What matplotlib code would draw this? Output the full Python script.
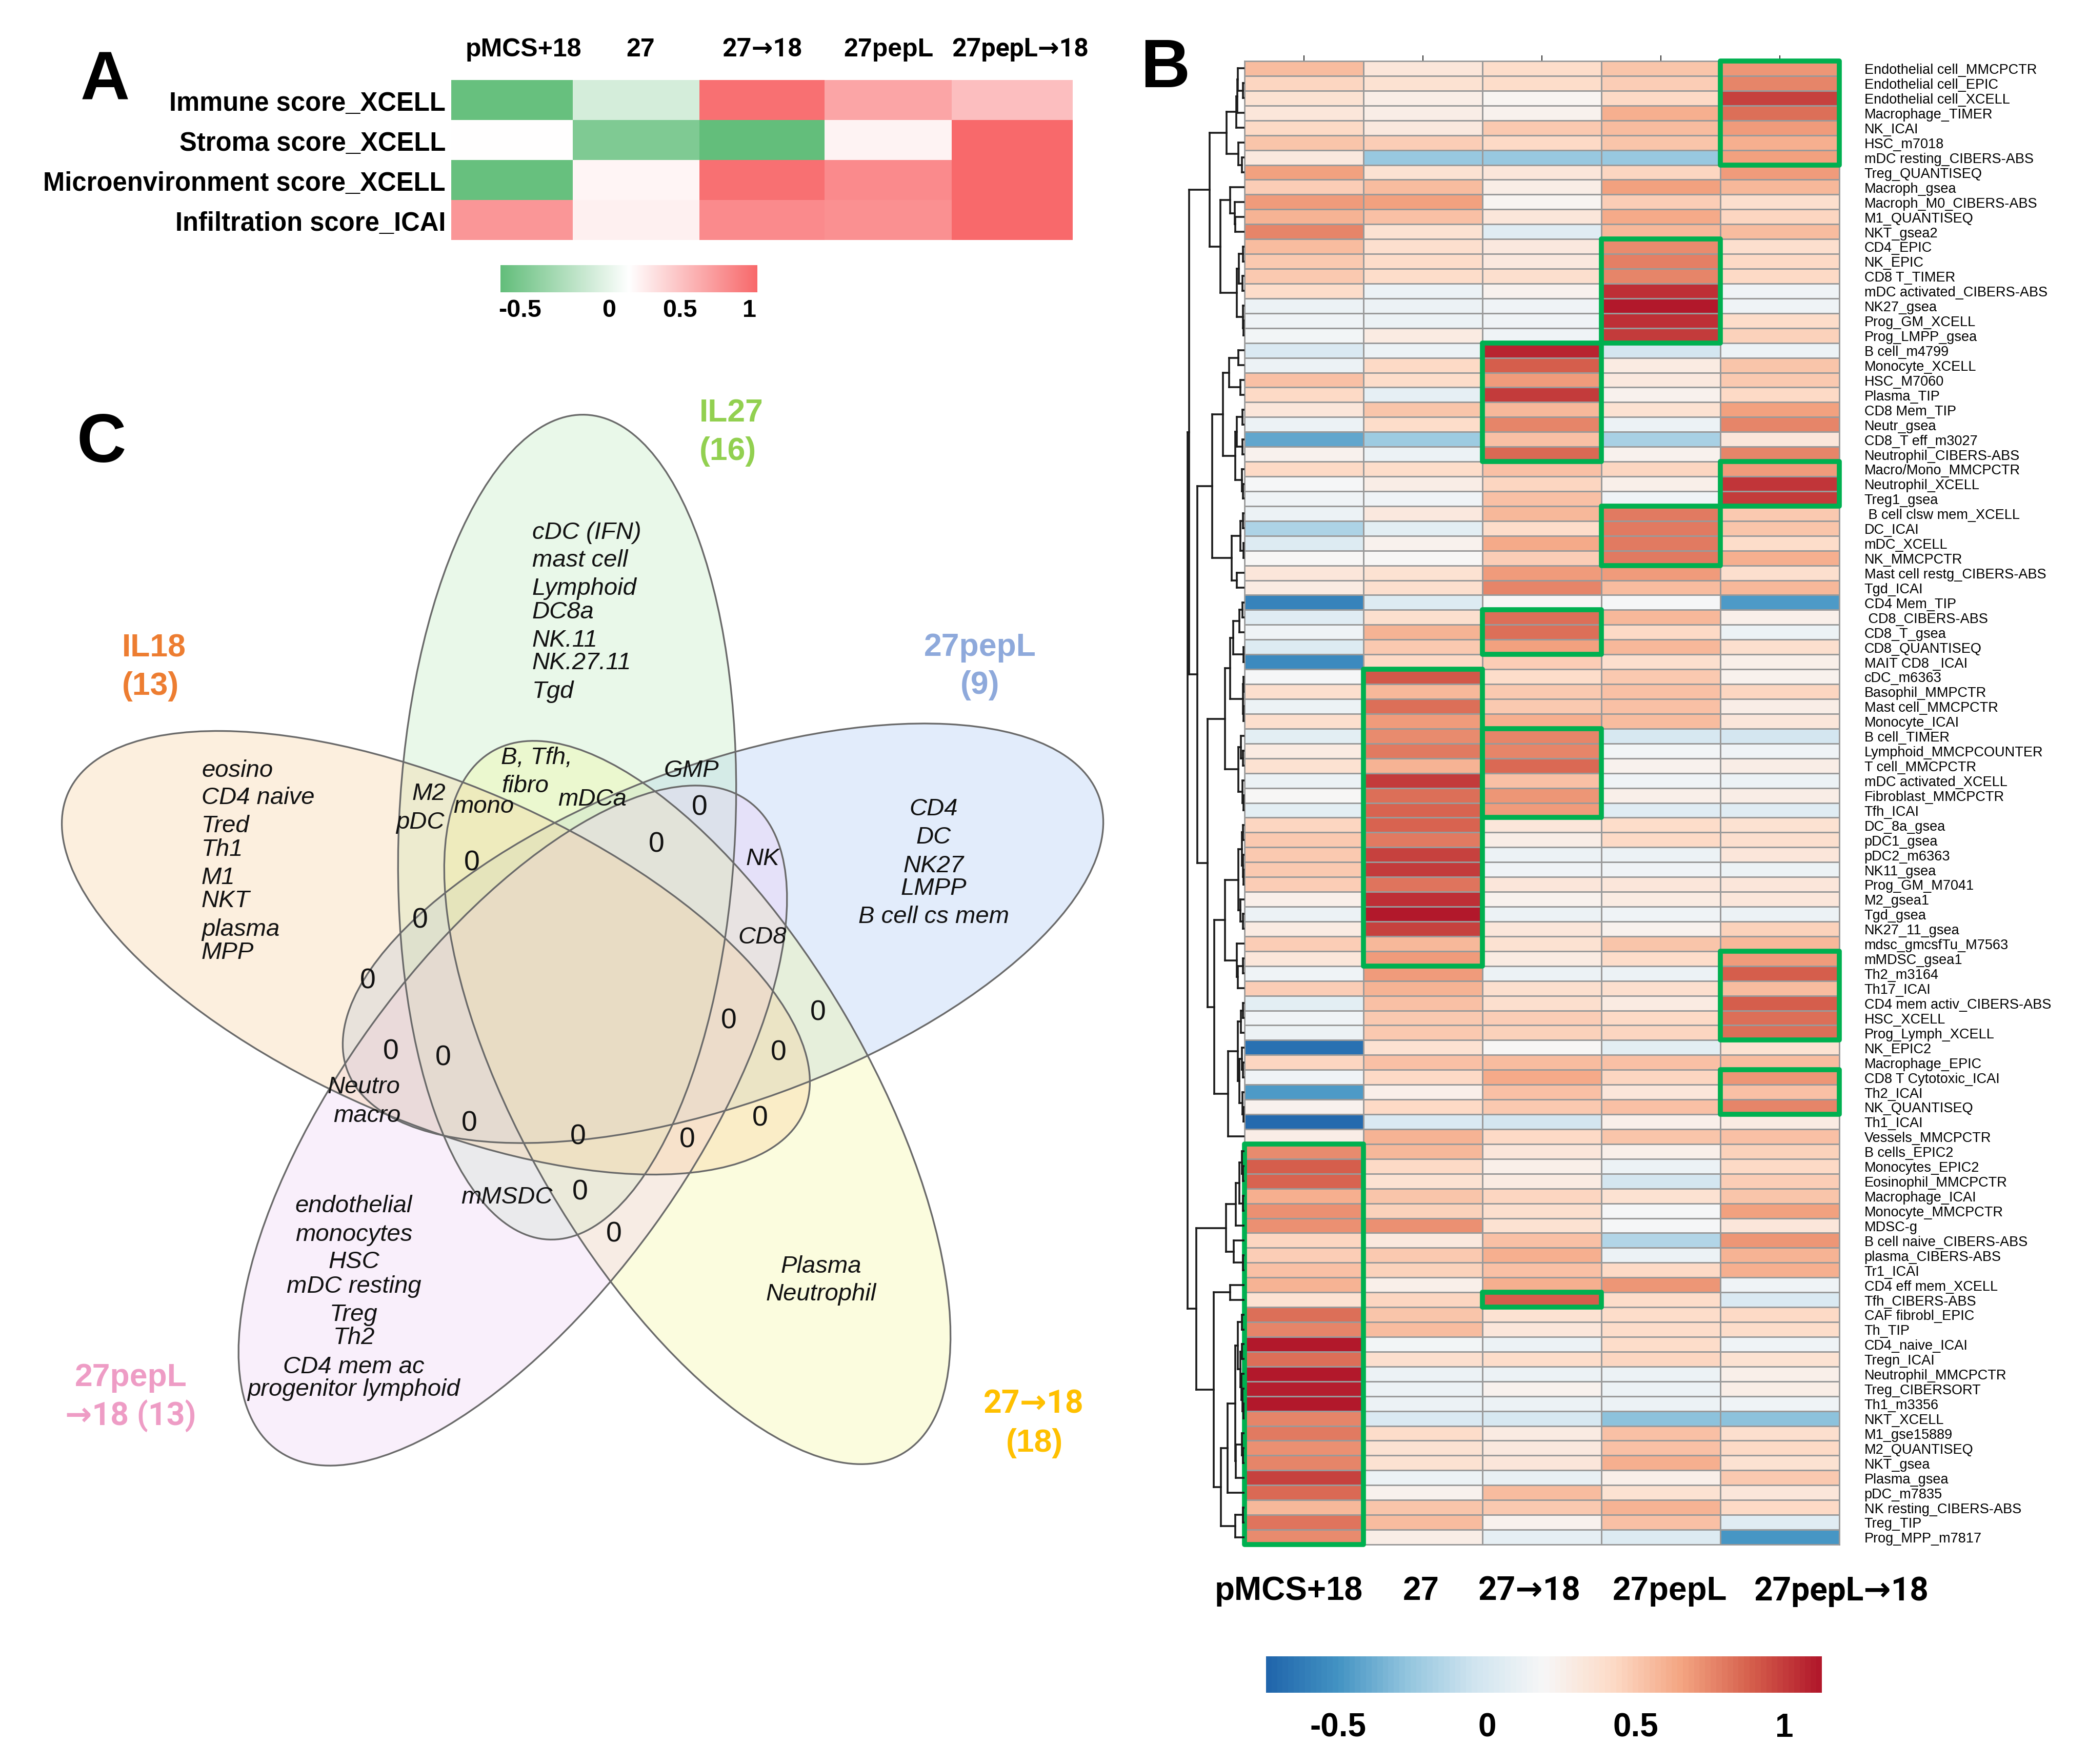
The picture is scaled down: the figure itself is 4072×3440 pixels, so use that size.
import numpy as np
import matplotlib
matplotlib.use('Agg')
import matplotlib.pyplot as plt
from matplotlib.colors import LinearSegmentedColormap, Normalize, TwoSlopeNorm
from matplotlib.patches import Ellipse, Rectangle

plt.rcParams['font.family'] = ['Liberation Sans', 'DejaVu Sans']

W, H = 4072, 3440

# panel A
a_rows = ['Immune score_XCELL', 'Stroma score_XCELL', 'Microenvironment score_XCELL', 'Infiltration score_ICAI']
a_cols = ['pMCS+18', '27', '27→18', '27pepL', '27pepL→18']
a_values = [
    [-0.58, -0.13, 1.00, 0.65, 0.48],
    [0.05, -0.48, -0.60, 0.13, 1.05],
    [-0.58, 0.12, 1.00, 0.83, 1.05],
    [0.75, 0.15, 0.83, 0.79, 1.05],
]
a_edges = [880, 1117, 1364, 1608, 1856, 2092]

# panel B
b_cols = ['pMCS+18', '27', '27→18', '27pepL', '27pepL→18']
b_rows = [
    'Endothelial cell_MMCPCTR', 'Endothelial cell_EPIC', 'Endothelial cell_XCELL', 'Macrophage_TIMER', 'NK_ICAI',
    'HSC_m7018', 'mDC resting_CIBERS-ABS', 'Treg_QUANTISEQ', 'Macroph_gsea', 'Macroph_M0_CIBERS-ABS',
    'M1_QUANTISEQ', 'NKT_gsea2', 'CD4_EPIC', 'NK_EPIC', 'CD8 T_TIMER',
    'mDC activated_CIBERS-ABS', 'NK27_gsea', 'Prog_GM_XCELL', 'Prog_LMPP_gsea', 'B cell_m4799',
    'Monocyte_XCELL', 'HSC_M7060', 'Plasma_TIP', 'CD8 Mem_TIP', 'Neutr_gsea',
    'CD8_T eff_m3027', 'Neutrophil_CIBERS-ABS', 'Macro/Mono_MMCPCTR', 'Neutrophil_XCELL', 'Treg1_gsea',
    ' B cell clsw mem_XCELL', 'DC_ICAI', 'mDC_XCELL', 'NK_MMCPCTR', 'Mast cell restg_CIBERS-ABS',
    'Tgd_ICAI', 'CD4 Mem_TIP', ' CD8_CIBERS-ABS', 'CD8_T_gsea', 'CD8_QUANTISEQ',
    'MAIT CD8 _ICAI', 'cDC_m6363', 'Basophil_MMPCTR', 'Mast cell_MMCPCTR', 'Monocyte_ICAI',
    'B cell_TIMER', 'Lymphoid_MMCPCOUNTER', 'T cell_MMCPCTR', 'mDC activated_XCELL', 'Fibroblast_MMCPCTR',
    'Tfh_ICAI', 'DC_8a_gsea', 'pDC1_gsea', 'pDC2_m6363', 'NK11_gsea',
    'Prog_GM_M7041', 'M2_gsea1', 'Tgd_gsea', 'NK27_11_gsea', 'mdsc_gmcsfTu_M7563',
    'mMDSC_gsea1', 'Th2_m3164', 'Th17_ICAI', 'CD4 mem activ_CIBERS-ABS', 'HSC_XCELL',
    'Prog_Lymph_XCELL', 'NK_EPIC2', 'Macrophage_EPIC', 'CD8 T Cytotoxic_ICAI', 'Th2_ICAI',
    'NK_QUANTISEQ', 'Th1_ICAI', 'Vessels_MMCPCTR', 'B cells_EPIC2', 'Monocytes_EPIC2',
    'Eosinophil_MMCPCTR', 'Macrophage_ICAI', 'Monocyte_MMCPCTR', 'MDSC-g', 'B cell naive_CIBERS-ABS',
    'plasma_CIBERS-ABS', 'Tr1_ICAI', 'CD4 eff mem_XCELL', 'Tfh_CIBERS-ABS', 'CAF fibrobl_EPIC',
    'Th_TIP', 'CD4_naive_ICAI', 'Tregn_ICAI', 'Neutrophil_MMCPCTR', 'Treg_CIBERSORT',
    'Th1_m3356', 'NKT_XCELL', 'M1_gse15889', 'M2_QUANTISEQ', 'NKT_gsea',
    'Plasma_gsea', 'pDC_m7835', 'NK resting_CIBERS-ABS', 'Treg_TIP', 'Prog_MPP_m7817',
]
b_pmcs = [
    .55, .45, .36, .33, .42, .52, .32, .66, .48, .68,
    .60, .76, .56, .50, .50, .40, .13, .14, .16, .02,
    .13, .54, .43, .33, .13, -.42, .24, .42, .18, .14,
    .13, -.18, .04, .20, .33, .30, -.58, .06, .14, .03,
    -.55, .18, .38, .13, .38, .07, .30, .36, .13, .20,
    .07, .44, .50, .50, .50, .48, .25, .13, .30, .48,
    .33, .14, .48, .07, .14, .12, -.68, .44, .15, -.47,
    .23, -.72, .28, .74, .90, .88, .62, .72, .72, .44,
    .48, .54, .60, .36, .84, .76, 1.13, .84, 1.13, 1.10,
    1.13, .76, .80, .72, .76, .98, .86, .58, .82, .74,
]
b_27 = [
    .33, .36, .28, .28, .32, .48, -.24, .36, .55, .66,
    .54, .36, .38, .40, .40, .13, .13, .13, .29, .13,
    .42, .40, .08, .52, .40, -.22, .13, .40, .27, .14,
    .32, .07, .24, .20, .36, .38, .04, .38, .60, .50,
    .42, .92, .58, .84, .68, .74, .80, .60, 1.00, .84,
    .88, .88, .80, .98, 1.00, .82, 1.05, 1.13, .98, .58,
    .68, .68, .60, .54, .50, .50, .36, .54, .42, .26,
    .42, .02, .60, .58, .42, .36, .52, .46, .72, .32,
    .50, .46, .26, .44, .52, .56, .16, .38, .13, .12,
    .13, .01, .40, .36, .36, .12, .24, .52, .56, .28,
]
b_27_18 = [
    .40, .40, .22, .24, .50, .42, -.24, .33, .27, .22,
    .33, .06, .32, .32, .38, .24, .14, .14, .14, 1.07,
    .90, .68, 1.00, .58, .76, .54, .86, .54, .44, .54,
    .58, .40, .64, .48, .68, .76, .20, .84, .84, .66,
    .48, .40, .50, .50, .62, .76, .76, .86, .54, .70,
    .68, .34, .28, .13, .14, .34, .24, .13, .33, .36,
    .30, .12, .38, .38, .48, .46, .20, .56, .64, .54,
    .50, -.02, .42, .33, .26, .30, .44, .38, .36, .54,
    .62, .54, .62, .90, .36, .34, .13, .40, .12, .24,
    .13, .00, .30, .32, .34, .10, .56, .50, .24, .09,
]
b_27pepl = [
    .52, .48, .42, .62, .56, .52, -.24, .44, .66, .48,
    .64, .58, .74, .78, .76, 1.05, 1.13, 1.05, 1.00, -.02,
    .30, .32, .24, .36, .13, -.20, .24, .44, .26, .14,
    .80, .80, .80, .80, .68, .56, .18, .58, .42, .58,
    .38, .50, .54, .54, .56, .00, .16, .24, .14, .25,
    .06, .40, .42, .13, .14, .33, .30, .14, .24, .52,
    .40, .13, .38, .30, .42, .44, .07, .54, .44, .34,
    .54, .26, .52, .26, .12, -.02, .36, .18, .18, -.16,
    .12, .42, .70, .40, .40, .40, .40, .44, .12, .12,
    .13, -.28, .54, .54, .62, .26, .36, .60, .54, .03,
]
b_27pepl_18 = [
    .70, .76, .98, .84, .68, .62, .66, .68, .57, .38,
    .44, .56, .38, .42, .42, .14, .14, .40, .46, .13,
    .52, .50, .42, .66, .76, .34, .76, .68, 1.03, 1.00,
    .50, .52, .40, .62, .38, .58, -.47, .26, .12, .38,
    .26, .24, .44, .28, .33, -.03, .14, .28, .13, .28,
    .06, .36, .38, .33, .12, .33, .33, .13, .46, .58,
    .68, .90, .56, .90, .84, .84, .36, .56, .70, .54,
    .76, .30, .54, .46, .42, .48, .52, .66, .34, .70,
    .60, .62, .14, .02, .42, .40, .14, .36, .26, .28,
    .14, -.28, .38, .42, .36, .50, .34, .42, .06, -.50,
]
b_matrix = np.array([b_pmcs, b_27, b_27_18, b_27pepl, b_27pepl_18]).T

# green boxes: first column, first row, last row (rows counted from 1)
b_boxes = [(4, 1, 7), (3, 13, 19), (2, 20, 27), (4, 28, 30), (3, 31, 34), (2, 38, 40), (1, 42, 61),
           (2, 46, 51), (4, 61, 66), (4, 69, 71), (0, 74, 100), (2, 84, 84)]

# row dendrogram as (depth, child, child), integers are rows counted from 1
top_block = (68,
             (35, (16, (14, (13, 1, (3, 2, 3)), 4), 5), (12, 6, (5, 7, 8))),
             (47, (28, 9, (19, 10, (18, 11, 12))),
              (15, (11, (3, 13, 14), (4, 15, 16)), (3, 17, (2, 18, 19)))))
mid_a = (63,
         (42, (30, (12, 20, 21), (8, 22, 23)),
          (18, (15, (4, 24, 25), (4, 26, 27)), (5, 28, (3, 29, 30)))),
         (25, (8, (3, 31, 32), (2, 33, 34)), (15, 35, 36)))
mid_b = (38,
         (28, (22, (10, (4, 37, 38), 39), (2, 40, 41)), (3, (2, 42, 43), (2, 44, 45))),
         (12, (7, 46, (3, 47, 48)), (4, 49, (2, 50, 51))))
mid_c = (59,
         (38, (12, (5, (3, 52, 53), (3, 54, (2, 55, 56))), (8, 57, (3, 58, 59))),
          (15, 60, (13, (3, 61, 62), 63))),
         (32, (13, (7, (3, 64, 65), 66), (10, (5, 67, (3, 68, 69)), (4, 70, (2, 71, 72)))), 73))
low_a = (36, (17, (10, (5, 74, (3, 75, 76)), (3, 77, 78)), 79), (21, 80, (3, 81, 82)))
low_b = (60, (28, 83, 84),
         (46, (33, (18, (13, (5, 85, 86), (8, (5, 87, 88), (6, 89, (4, 90, (2, 91, 92))))),
                    (17, (5, 93, (3, 94, 95)), 96)), 97),
          (18, (3, 98, 99), 100)))
dendro = (111, (108, top_block, (92, mid_a, (72, mid_b, mid_c))), (94, low_a, low_b))

# panel C, drawn in this order
venn_sets = [
    # centre x, centre y, semi major, semi minor, angle, fill
    (1410, 1820, 780, 330, -20.0, '#A2C3F5'),
    (1106, 1613, 805, 328, 92.6, '#B9EBB9'),
    (1360, 2150, 793, 335, 59.7, '#F2F894'),
    (1000, 2195, 782, 338, -54.0, '#EECAF5'),
    (850, 1858, 782, 328, 23.4, '#F8CD94'),
]
venn_left = [
    ('cDC (IFN)', 1038, 1039), ('mast cell', 1038, 1093), ('Lymphoid', 1038, 1148), ('DC8a', 1038, 1194),
    ('NK.11', 1038, 1249), ('NK.27.11', 1038, 1293), ('Tgd', 1038, 1349),
    ('eosino', 393, 1503), ('CD4 naive', 393, 1556), ('Tred', 393, 1611), ('Th1', 393, 1657),
    ('M1', 393, 1712), ('NKT', 393, 1757), ('plasma', 393, 1813), ('MPP', 393, 1858),
]
venn_center = [
    ('CD4', 1821, 1578), ('DC', 1821, 1633), ('NK27', 1821, 1689), ('LMPP', 1821, 1733), ('B cell cs mem', 1821, 1788),
    ('B, Tfh,', 1047, 1478), ('fibro', 1024, 1533), ('M2', 836, 1548), ('pDC', 819, 1604), ('mono', 943, 1573),
    ('mDCa', 1155, 1559), ('GMP', 1348, 1503), ('NK', 1487, 1675), ('CD8', 1487, 1828),
    ('Neutro', 709, 2120), ('macro', 716, 2176), ('mMSDC', 988, 2335),
    ('endothelial', 690, 2352), ('monocytes', 690, 2408), ('HSC', 690, 2461), ('mDC resting', 690, 2509),
    ('Treg', 690, 2564), ('Th2', 690, 2609), ('CD4 mem ac', 690, 2666), ('progenitor lymphoid', 690, 2710),
    ('Plasma', 1601, 2470), ('Neutrophil', 1601, 2524),
]
venn_zeros = [(1364, 1575), (1280, 1647), (920, 1684), (819, 1796), (717, 1914), (1421, 1991), (1595, 1975),
              (762, 2051), (864, 2063), (1518, 2054), (1482, 2181), (915, 2192), (1127, 2218), (1340, 2224),
              (1131, 2325), (1197, 2407)]
venn_titles = [
    ('IL27', 1364, 806, '#92D050', 'left'), ('(16)', 1364, 880, '#92D050', 'left'),
    ('IL18', 238, 1264, '#ED7D31', 'left'), ('(13)', 238, 1339, '#ED7D31', 'left'),
    ('27pepL', 1911, 1262, '#8EA9DB', 'center'), ('(9)', 1911, 1337, '#8EA9DB', 'center'),
    ('27pepL', 255, 2687, '#EE9CC5', 'center'), ('→18 (13)', 255, 2761, '#EE9CC5', 'center'),
    ('27→18', 2016, 2738, '#FFC000', 'center'), ('(18)', 2018, 2814, '#FFC000', 'center'),
]

# Roboto has no arrow, so → falls through to the larger DejaVu one
arrow_fonts = ['Roboto', 'DejaVu Sans']


def px_axes(x0, y0, x1, y1, **kw):
    return fig.add_axes([x0 / W, 1 - y1 / H, (x1 - x0) / W, (y1 - y0) / H], **kw)


def bold_label(x, y, label, size, color='black', ha='center'):
    fam = arrow_fonts if '→' in label else ['Liberation Sans', 'DejaVu Sans']
    page.text(x, y, label, fontsize=size, fontweight='bold', family=fam, color=color, ha=ha, va='center')


fig = plt.figure(figsize=(W / 100, H / 100), dpi=100)

# full page axes in pixels, for the venn and loose text
page = px_axes(0, 0, W, H)
page.set_xlim(0, W)
page.set_ylim(H, 0)
page.axis('off')

for letter, x, y in [('A', 205, 160), ('B', 2272, 136), ('C', 198, 866)]:
    page.text(x, y, letter, fontsize=96, fontweight='bold', ha='center', va='center')

# --- A ---
green_red = LinearSegmentedColormap.from_list('gr', ['#63BE7B', '#FFFFFF', '#F8696B'])
a_norm = TwoSlopeNorm(vmin=-0.6, vcenter=0.05, vmax=1.05)
ax_a = px_axes(a_edges[0], 156, a_edges[-1], 468)
ax_a.pcolormesh(a_edges, np.arange(5), np.array(a_values), cmap=green_red, norm=a_norm)
ax_a.set_ylim(4, 0)
ax_a.set_xticks([])
ax_a.set_yticks(np.arange(4) + 0.52)
ax_a.set_yticklabels(a_rows, fontsize=36.5, fontweight='bold')
ax_a.tick_params(axis='y', length=0, pad=8)
for s in ax_a.spines.values():
    s.set_visible(False)
for label, x in zip(a_cols, [1021, 1249, 1487, 1733, 1990]):
    bold_label(x, 97, label, 36)

ax_ac = px_axes(976, 517, 1477, 570)
ax_ac.imshow(np.linspace(0, 1, 256)[None, :], aspect='auto', cmap=green_red, extent=[976, 1477, 0, 1])
ax_ac.axis('off')
for label, x in [('-0.5', 1014), ('0', 1188), ('0.5', 1326), ('1', 1462)]:
    bold_label(x, 605, label, 35)

# --- B ---
rdbu = LinearSegmentedColormap.from_list('rdbu', ['#2166AC', '#4393C3', '#92C5DE', '#D1E5F0', '#F7F7F7',
                                                  '#FDDBC7', '#F4A582', '#D6604D', '#B2182B'], N=100)
b_norm = Normalize(vmin=-0.743, vmax=1.126)
ax_b = px_axes(2427, 119, 3587, 3012)
ax_b.pcolormesh(np.arange(6), np.arange(101), b_matrix, cmap=rdbu, norm=b_norm,
                edgecolors='#9A9A9A', linewidth=2.0)
ax_b.set_xlim(0, 5)
ax_b.set_ylim(100, 0)
ax_b.xaxis.tick_top()
ax_b.set_xticks(np.arange(5) + 0.5)
ax_b.set_xticklabels([])
ax_b.tick_params(axis='x', length=8, width=1.5, color='#333333')
ax_b.yaxis.tick_right()
ax_b.set_yticks(np.arange(100) + 0.53)
ax_b.set_yticklabels(b_rows, fontsize=19.5)
ax_b.tick_params(axis='y', length=0, pad=35)
for s in ax_b.spines.values():
    s.set_color('#9A9A9A')
    s.set_linewidth(2)
for col, r0, r1 in b_boxes:
    ax_b.add_patch(Rectangle((col, r0 - 1), 1, r1 - r0 + 1, fill=False, edgecolor='#00B050',
                             linewidth=7, joinstyle='round', clip_on=False, zorder=5))

# dendrogram, same rows as the heatmap
ax_d = px_axes(2310, 119, 2427, 3012)
ax_d.set_xlim(117, 0)
ax_d.set_ylim(100, 0)
ax_d.axis('off')


def draw_node(node):
    if isinstance(node, int):
        return node - 0.5, 0
    depth = node[0]
    places = [draw_node(c) for c in node[1:]]
    ys = [p[0] for p in places]
    for y, d in places:
        ax_d.plot([d, depth], [y, y], color='#1A1A1A', lw=2.6, solid_capstyle='projecting')
    ax_d.plot([depth, depth], [ys[0], ys[-1]], color='#1A1A1A', lw=2.6, solid_capstyle='projecting')
    return (ys[0] + ys[-1]) / 2, depth


draw_node(dendro)

for label, x in zip(b_cols, [2513, 2771, 2983, 3257, 3591]):
    bold_label(x, 3103, label, 46)

ax_bc = px_axes(2469, 3230, 3553, 3301)
ax_bc.imshow(np.linspace(-0.743, 1.126, 100)[None, :], aspect='auto', cmap=rdbu, norm=b_norm,
             extent=[-0.743, 1.126, 0, 1])
ax_bc.set_yticks([])
ax_bc.set_xticks([-0.5, 0, 0.5, 1])
ax_bc.set_xticklabels(['-0.5', '0', '0.5', '1'], fontsize=46, fontweight='bold')
ax_bc.tick_params(axis='x', length=0, pad=28)
for s in ax_bc.spines.values():
    s.set_visible(False)

# --- C ---
for cx, cy, a, b, angle, fill in venn_sets:
    page.add_patch(Ellipse((cx, cy), 2 * a, 2 * b, angle=angle, facecolor=fill, alpha=0.3, edgecolor='none'))
for cx, cy, a, b, angle, fill in venn_sets:
    page.add_patch(Ellipse((cx, cy), 2 * a, 2 * b, angle=angle, fill=False, edgecolor='#6A6A6A', linewidth=2.4))

for label, x, y in venn_left:
    page.text(x, y, label, fontsize=34, style='italic', ha='left', va='center', color='#111111')
for label, x, y in venn_center:
    page.text(x, y, label, fontsize=34, style='italic', ha='center', va='center', color='#111111')
for x, y in venn_zeros:
    page.text(x, y, '0', fontsize=40, ha='center', va='center', color='#111111')
for label, x, y, color, align in venn_titles:
    bold_label(x, y, label, 45, color=color, ha=align)

fig.savefig('out.png', dpi=100)
